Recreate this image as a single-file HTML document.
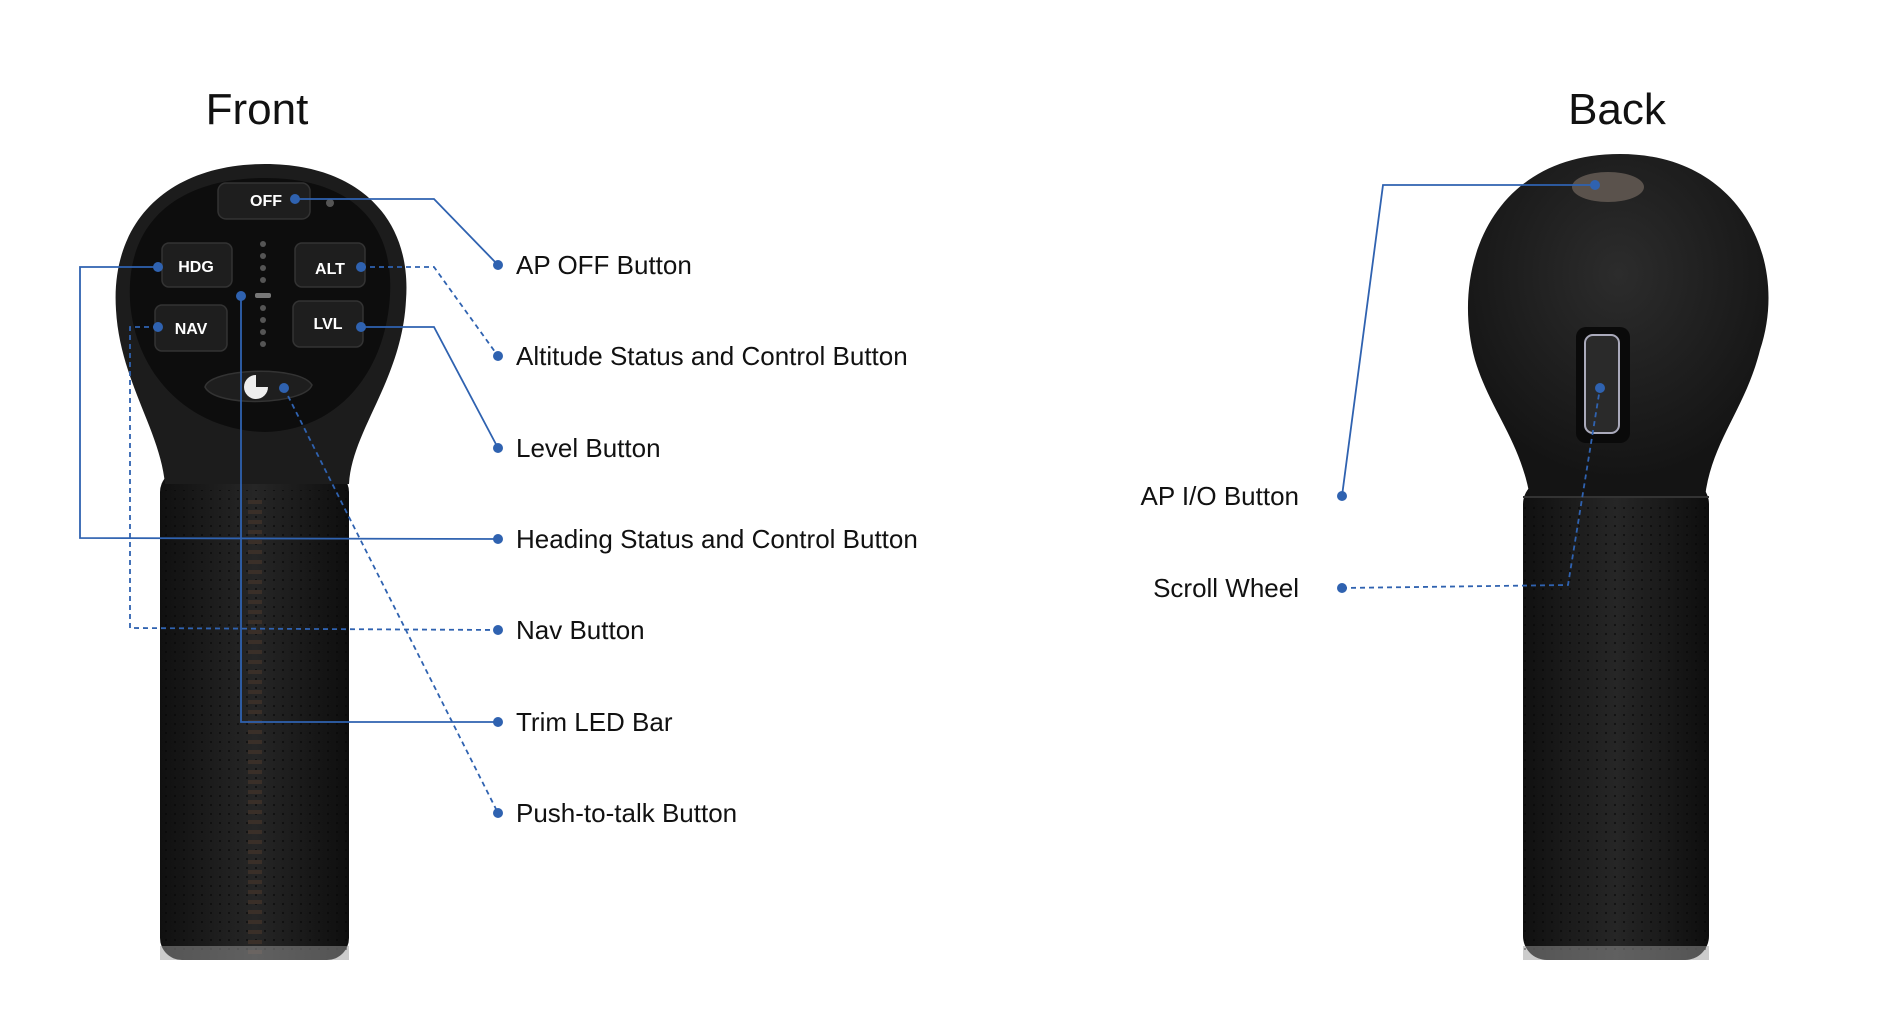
<!DOCTYPE html>
<html><head><meta charset="utf-8"><style>
html,body{margin:0;padding:0;background:#fff;width:1898px;height:1034px;overflow:hidden}
svg{display:block}
text{font-family:"Liberation Sans",sans-serif;fill:#111}
</style></head><body>
<svg width="1898" height="1034" viewBox="0 0 1898 1034">
<defs>
<radialGradient id="hg" cx="0.5" cy="0.35" r="0.6"><stop offset="0" stop-color="#2c2c2c"/><stop offset="1" stop-color="#141414"/></radialGradient>
<linearGradient id="grip" x1="0" x2="1"><stop offset="0" stop-color="#101010"/><stop offset="0.5" stop-color="#262626"/><stop offset="1" stop-color="#0e0e0e"/></linearGradient>
<pattern id="dots" width="9" height="9" patternUnits="userSpaceOnUse"><circle cx="4" cy="4" r="1.1" fill="#050505"/></pattern>
</defs>
<text x="257" y="124" font-size="44" text-anchor="middle">Front</text>
<text x="1617" y="124" font-size="44" text-anchor="middle">Back</text>

<!-- Front device -->
<rect x="160" y="470" width="189" height="490" rx="22" fill="url(#grip)"/>
<rect x="160" y="490" width="189" height="460" fill="url(#dots)" opacity="0.6"/>
<path d="M165 484 C160 430 120 380 116 310 C110 220 170 164 265 164 C360 164 412 220 406 300 C402 380 352 430 349 484 Z" fill="#1c1c1c"/>
<path d="M130 300 C126 220 180 178 265 178 C350 178 394 222 390 295 C386 370 340 430 265 432 C185 430 134 370 130 300 Z" fill="#0d0d0d"/>
<path d="M255 500 L255 955" stroke="#3a2f28" stroke-width="14" stroke-dasharray="4 6"/>
<rect x="160" y="946" width="189" height="14" fill="#999" opacity="0.5"/>
<g fill="#1e1e1e" stroke="#333" stroke-width="1.5">
<rect x="218" y="183" width="92" height="36" rx="8"/>
<rect x="162" y="243" width="70" height="44" rx="7"/>
<rect x="295" y="243" width="70" height="44" rx="7"/>
<rect x="155" y="305" width="72" height="46" rx="7"/>
<rect x="293" y="301" width="70" height="46" rx="7"/>
<path d="M205 387 C210 368 300 365 312 385 C305 405 215 408 205 387 Z"/>
</g>
<g font-size="16" font-weight="bold" text-anchor="middle">
<text x="266" y="206" style="fill:#fff">OFF</text>
<text x="196" y="272" style="fill:#fff">HDG</text>
<text x="330" y="274" style="fill:#fff">ALT</text>
<text x="191" y="334" style="fill:#fff">NAV</text>
<text x="328" y="329" style="fill:#fff">LVL</text>
</g>
<circle cx="256" cy="387" r="12" fill="#eee"/><rect x="256" y="375" width="14" height="12" fill="#1e1e1e"/>
<g fill="#555"><circle cx="263" cy="244" r="3"/><circle cx="263" cy="256" r="3"/><circle cx="263" cy="268" r="3"/><circle cx="263" cy="280" r="3"/><rect x="255" y="293" width="16" height="5" rx="2" fill="#777"/><circle cx="263" cy="308" r="3"/><circle cx="263" cy="320" r="3"/><circle cx="263" cy="332" r="3"/><circle cx="263" cy="344" r="3"/><circle cx="330" cy="203" r="4"/></g>

<!-- Back device -->
<rect x="1523" y="480" width="186" height="480" rx="24" fill="url(#grip)"/>
<rect x="1523" y="500" width="186" height="450" fill="url(#dots)" opacity="0.6"/>
<path d="M1530 497 C1520 440 1490 410 1475 360 C1450 270 1490 154 1620 154 C1740 154 1790 260 1760 350 C1745 410 1712 440 1705 497 Z" fill="url(#hg)"/>
<line x1="1523" y1="497" x2="1709" y2="497" stroke="#333" stroke-width="2"/>
<ellipse cx="1608" cy="187" rx="36" ry="15" fill="#5a524c"/>
<rect x="1576" y="327" width="54" height="116" rx="10" fill="#0a0a0a"/>
<rect x="1585" y="335" width="34" height="98" rx="8" fill="#2a2a2a" stroke="#aab" stroke-width="2"/>
<rect x="1523" y="946" width="186" height="14" fill="#999" opacity="0.5"/>

<!-- connectors -->
<g fill="none" stroke="#2f62b0" stroke-width="1.8">
<polyline points="295,199 434,199 498,265"/>
<polyline points="361,267 434,267 498,356" stroke-dasharray="5 4"/>
<polyline points="361,327 434,327 498,448"/>
<polyline points="158,267 80,267 80,538 498,539"/>
<polyline points="158,327 130,327 130,628 498,630" stroke-dasharray="5 4"/>
<polyline points="241,296 241,722 498,722"/>
<polyline points="284,388 498,813" stroke-dasharray="5 4"/>
<polyline points="1342,496 1383,185 1595,185"/>
<polyline points="1342,588 1568,585 1600,388" stroke-dasharray="5 4"/>
</g>
<g fill="#2f62b0">
<circle cx="295" cy="199" r="5"/><circle cx="361" cy="267" r="5"/><circle cx="361" cy="327" r="5"/><circle cx="158" cy="267" r="5"/><circle cx="158" cy="327" r="5"/><circle cx="241" cy="296" r="5"/><circle cx="284" cy="388" r="5"/>
<circle cx="498" cy="265" r="5"/><circle cx="498" cy="356" r="5"/><circle cx="498" cy="448" r="5"/><circle cx="498" cy="539" r="5"/><circle cx="498" cy="630" r="5"/><circle cx="498" cy="722" r="5"/><circle cx="498" cy="813" r="5"/>
<circle cx="1342" cy="496" r="5"/><circle cx="1342" cy="588" r="5"/><circle cx="1595" cy="185" r="5"/><circle cx="1600" cy="388" r="5"/>
</g>
<g font-size="26">
<text x="516" y="274">AP OFF Button</text>
<text x="516" y="365">Altitude Status and Control Button</text>
<text x="516" y="457">Level Button</text>
<text x="516" y="548">Heading Status and Control Button</text>
<text x="516" y="639">Nav Button</text>
<text x="516" y="731">Trim LED Bar</text>
<text x="516" y="822">Push-to-talk Button</text>
<text x="1299" y="505" text-anchor="end">AP I/O Button</text>
<text x="1299" y="597" text-anchor="end">Scroll Wheel</text>
</g>
</svg>
</body></html>
